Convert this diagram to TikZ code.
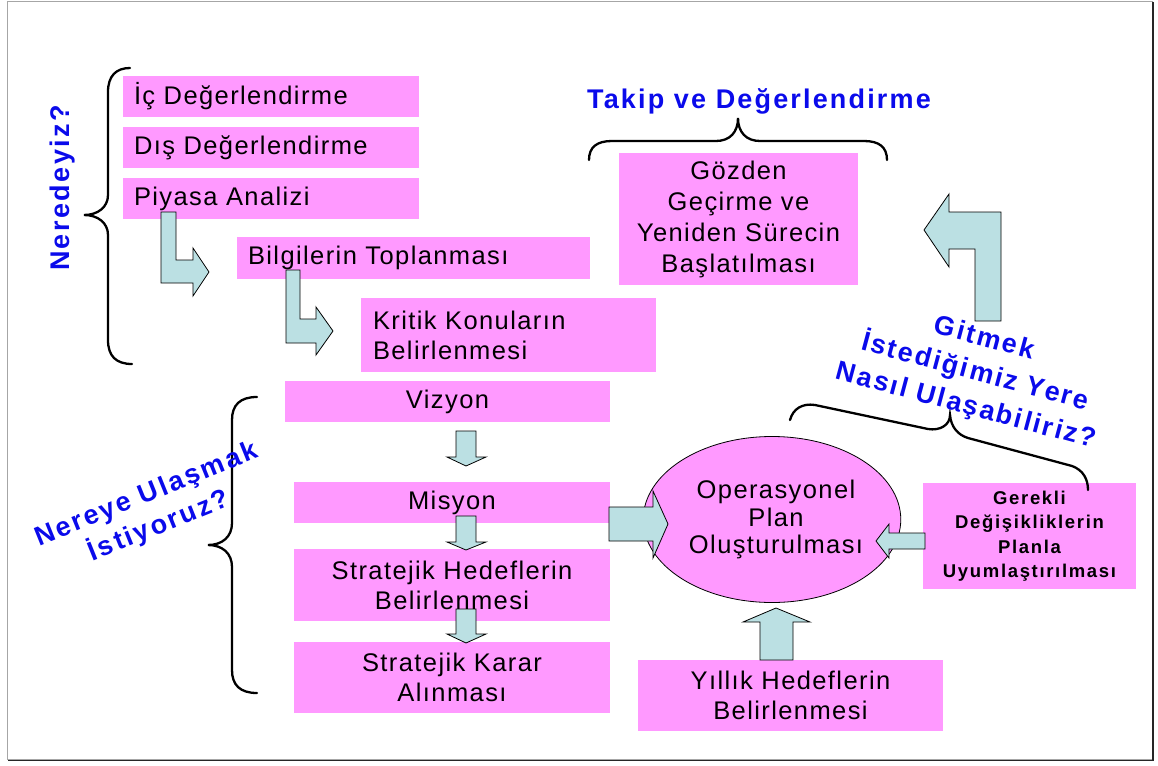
\documentclass[tikz,border=0pt]{standalone}
\usepackage{fontspec}
\usetikzlibrary{shapes.geometric}
\setmainfont{Liberation Sans}
\newfontfamily\rfont[LetterSpace=5.5]{Liberation Sans}
\newfontfamily\bfont[LetterSpace=8]{Liberation Sans}
\newfontfamily\gfont[LetterSpace=9]{Liberation Sans}
\newfontfamily\nfont[LetterSpace=9]{Liberation Sans}
\definecolor{pinkc}{RGB}{255,153,255}
\definecolor{arrc}{RGB}{187,224,227}
\definecolor{bluec}{RGB}{10,10,235}
\begin{document}
\begin{tikzpicture}[x=1pt,y=-1pt,
  pbox/.style={fill=pinkc, draw=none, inner xsep=11pt, inner ysep=0pt, text=black,
    font=\rfont\fontsize{25.5}{30}\selectfont},
  lbox/.style={pbox, align=left},
  cbox/.style={pbox, align=center},
  blockarrow/.style={fill=arrc, draw=black, line width=0.8pt, line join=miter},
  bracestyle/.style={draw=black, line width=2.3pt, line cap=round},
  bluetext/.style={text=bluec, font=\bfont\bfseries\fontsize{27}{35}\selectfont, align=center, inner sep=0pt}
]
\useasboundingbox (0,0) rectangle (1158,765);
% frame
\draw[gray!70, line width=0.8pt] (7.5,1.5) rectangle (1152,759);
\draw[black!85, line width=1.8pt] (1153,2) -- (1153,760.5) -- (8,760.5);

% top-left boxes
\node[lbox, minimum width=296pt, minimum height=41pt, text width=274pt] (ic) at (271,96.5) {İç Değerlendirme};
\node[lbox, minimum width=296pt, minimum height=41pt, text width=274pt] (dis) at (271,147.5) {Dış Değerlendirme};
\node[lbox, minimum width=296pt, minimum height=41pt, text width=274pt] (piy) at (271,198.5) {Piyasa Analizi};
\node[lbox, minimum width=353pt, minimum height=42pt, text width=331pt] (bil) at (413.5,258) {Bilgilerin Toplanması};
\node[lbox, inner xsep=12pt, minimum width=295pt, minimum height=74pt, text width=271pt] (kri) at (508.5,335) {Kritik Konuların\\Belirlenmesi};

% middle column
\node[cbox, minimum width=325pt, minimum height=41pt] (viz) at (447.5,401.5) {Vizyon};
\node[cbox, minimum width=316pt, minimum height=41pt] (mis) at (452,502.5) {Misyon};
\node[cbox, minimum width=316pt, minimum height=72pt] (sh) at (452,585) {Stratejik Hedeflerin\\Belirlenmesi};
\node[cbox, minimum width=316pt, minimum height=71pt] (sk) at (452,677.5) {Stratejik Karar\\Alınması};

% right side
\node[cbox, minimum width=239pt, minimum height=132pt, font=\rfont\fontsize{25.5}{31}\selectfont] (goz) at (738.5,219) {Gözden\\Geçirme ve\\Yeniden Sürecin\\Başlatılması};
\node[cbox, minimum width=213pt, minimum height=106pt, inner xsep=2pt, font=\gfont\bfseries\fontsize{18.5}{24.5}\selectfont] (ger) at (1029.5,536) {Gerekli\\Değişikliklerin\\Planla\\Uyumlaştırılması};
\node[cbox, minimum width=305pt, minimum height=71pt] (yil) at (790.5,695.5) {Yıllık Hedeflerin\\Belirlenmesi};
\node[ellipse, fill=pinkc, draw=black, line width=0.8pt, minimum width=210pt, minimum height=166pt, inner sep=0pt, align=center,
  font=\rfont\fontsize{25.5}{27.5}\selectfont] (op) at (772,519.5) {\hspace*{8pt}Operasyonel\\\hspace*{8pt}Plan\\\hspace*{8pt}Oluşturulması};

% block arrows
\draw[blockarrow] (161,212) -- (176,212) -- (176,260) -- (193,260) -- (193,248) -- (209,272) -- (193,296) -- (193,283) -- (161,283) -- cycle;
\draw[blockarrow] (286,270) -- (300,270) -- (300,319) -- (316,319) -- (316,307) -- (333,331) -- (316,355) -- (316,343) -- (286,343) -- cycle;
\draw[blockarrow] (456,431) -- (476,431) -- (476,457) -- (486,457) -- (466,466) -- (447,457) -- (456,457) -- cycle;
\draw[blockarrow] (456,516) -- (476,516) -- (476,542) -- (486,542) -- (466,550) -- (447,542) -- (456,542) -- cycle;
\draw[blockarrow] (456,609) -- (476,609) -- (476,634) -- (486,634) -- (466,643) -- (447,634) -- (456,634) -- cycle;
\draw[blockarrow] (609,507) -- (653,507) -- (653,491) -- (668,524) -- (653,558) -- (653,541) -- (609,541) -- cycle;
\draw[blockarrow] (925,533) -- (889,533) -- (889,524) -- (876,541) -- (889,558) -- (889,549) -- (925,549) -- cycle;
\draw[blockarrow] (760,660) -- (760,622) -- (743,622) -- (776,608) -- (810,622) -- (793,622) -- (793,660) -- cycle;
\draw[blockarrow] (924,230) -- (949,194) -- (949,212) -- (1001,212) -- (1001,321) -- (975,321) -- (975,249) -- (949,249) -- (949,267) -- cycle;

% braces
\draw[bracestyle] (130,68) .. controls (116,68) and (108,76) .. (108,92) -- (108,195)
  .. controls (108,207) and (98,215) .. (84,215) .. controls (98,215) and (108,223) .. (108,235)
  -- (108,340) .. controls (108,356) and (116,364) .. (132,364);
\draw[bracestyle] (257,397) .. controls (240,397) and (232,405) .. (232,420) -- (232,523)
  .. controls (232,537) and (222,545) .. (208,545) .. controls (222,545) and (232,553) .. (232,567)
  -- (232,670) .. controls (232,685) and (240,693) .. (257,693);
\draw[bracestyle] (589,160) .. controls (589,147) and (597,141) .. (612,141) -- (716,141)
  .. controls (730,141) and (738,132) .. (738,118) .. controls (738,132) and (746,141) .. (760,141)
  -- (864,141) .. controls (879,141) and (887,147) .. (887,160);
\draw[bracestyle] (790,420) .. controls (793,409) and (802,403) .. (815,405) -- (928,429)
  .. controls (940,431) and (950,425) .. (950,415) .. controls (951,427) and (958,435) .. (968,438)
  -- (1072,466) .. controls (1083,470) and (1088,479) .. (1088,490);

% blue labels
\node[bluetext, anchor=base] (takip) at (759,109) {Takip ve Değerlendirme};
\node[bluetext, rotate=90, font=\nfont\bfseries\fontsize{27}{30}\selectfont] (nered) at (63,188) {Neredeyiz?};
\node[bluetext, rotate=22, font=\nfont\bfseries\fontsize{27}{34}\selectfont] (nereye) at (153,511) {Nereye Ulaşmak\\İstiyoruz?};
\node[bluetext, rotate=-15] (gitmek) at (975,373) {Gitmek\\İstediğimiz Yere\\Nasıl Ulaşabiliriz?};
\end{tikzpicture}
\end{document}
